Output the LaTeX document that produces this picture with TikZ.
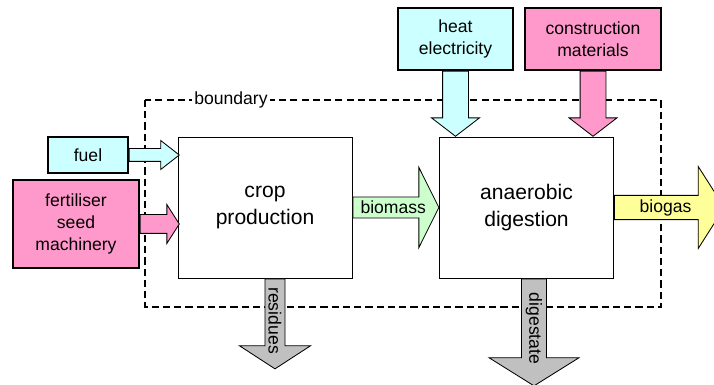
\documentclass[tikz,border=0pt]{standalone}
\usepackage{fontspec}
\setmainfont{Liberation Sans}
\usetikzlibrary{shapes.arrows}

\definecolor{lightcyan}{RGB}{204,255,255}
\definecolor{lightpink}{RGB}{255,153,204}
\definecolor{lightgreen}{RGB}{204,255,204}
\definecolor{lightyellow}{RGB}{255,255,153}
\definecolor{flowgray}{RGB}{192,192,192}

\newcommand{\px}{0.025cm}

\tikzstyle{inputbox} = [rectangle, draw=black, line width=1.2pt, text centered, align=center, font=\fontsize{12.5}{15.5}\selectfont]
\tikzstyle{process} = [rectangle, draw=black, line width=0.6pt, fill=white, text centered, align=center, minimum width=174*\px, minimum height=141*\px, font=\fontsize{15}{19}\selectfont]
\tikzstyle{flow} = [single arrow, draw=black, line width=0.6pt, single arrow head indent=0pt, inner xsep=1pt, inner ysep=0pt, anchor=tail, font=\fontsize{12.5}{15}\selectfont]

\begin{document}
\begin{tikzpicture}[x=\px, y=-\px]

\useasboundingbox (0,0) rectangle (714,385);

% system boundary
\draw [dashed, line width=0.9pt, dash pattern=on 5pt off 3pt] (145,100) rectangle (661,307);
\node (bound) [fill=white, inner sep=2pt, font=\fontsize{12.5}{15}\selectfont] at (231,100) {boundary};

% processes
\node (crop) [process] at (265,207.5) {crop\\production};
\node (digest) [process] at (526.5,207.5) {anaerobic\\digestion};

% inputs
\node (fuel) [inputbox, fill=lightcyan, minimum width=80*\px, minimum height=36*\px] at (88,155) {fuel};
\node (fert) [inputbox, fill=lightpink, minimum width=126*\px, minimum height=88*\px] at (76,224) {fertiliser\\seed\\machinery};
\node (heat) [inputbox, fill=lightcyan, minimum width=115*\px, minimum height=62*\px] at (455.5,39) {heat\\electricity};
\node (constr) [inputbox, fill=lightpink, minimum width=136*\px, minimum height=62*\px] at (593,39) {construction\\materials};

% flows
\node (fuelflow) [flow, fill=lightcyan, minimum height=50*\px, minimum width=28*\px, text height=12*\px, single arrow head extend=8*\px, single arrow tip angle=76] at (fuel.east) {};
\node (fertflow) [flow, fill=lightpink, minimum height=39*\px, minimum width=38*\px, text height=18*\px, single arrow head extend=10*\px, single arrow tip angle=115] at (fert.east) {};
\node (heatflow) [flow, fill=lightcyan, rotate=-90, minimum height=65*\px, minimum width=47*\px, text height=25*\px, single arrow head extend=11*\px, single arrow tip angle=105] at (heat.south) {};
\node (constrflow) [flow, fill=lightpink, rotate=-90, minimum height=65*\px, minimum width=47*\px, text height=25*\px, single arrow head extend=11*\px, single arrow tip angle=105] at (constr.south) {};
\node (biomass) [flow, fill=lightgreen, minimum height=86*\px, minimum width=80*\px, single arrow head extend=19.5*\px, single arrow tip angle=127] at (crop.east) {biomass};
\node (biogas) [flow, fill=lightyellow, minimum height=110*\px, minimum width=82*\px, single arrow head extend=20.5*\px, single arrow tip angle=115] at (digest.east) {biogas};
\node (residues) [flow, fill=flowgray, rotate=-90, minimum height=90*\px, minimum width=71*\px, single arrow head extend=17.5*\px, single arrow tip angle=114] at ([xshift=10*\px]crop.south) {residues};
\node (digestate) [flow, fill=flowgray, rotate=-90, minimum height=107*\px, minimum width=90*\px, single arrow head extend=22.5*\px, single arrow tip angle=116] at ([xshift=7.5*\px]digest.south) {digestate};

\end{tikzpicture}
\end{document}
